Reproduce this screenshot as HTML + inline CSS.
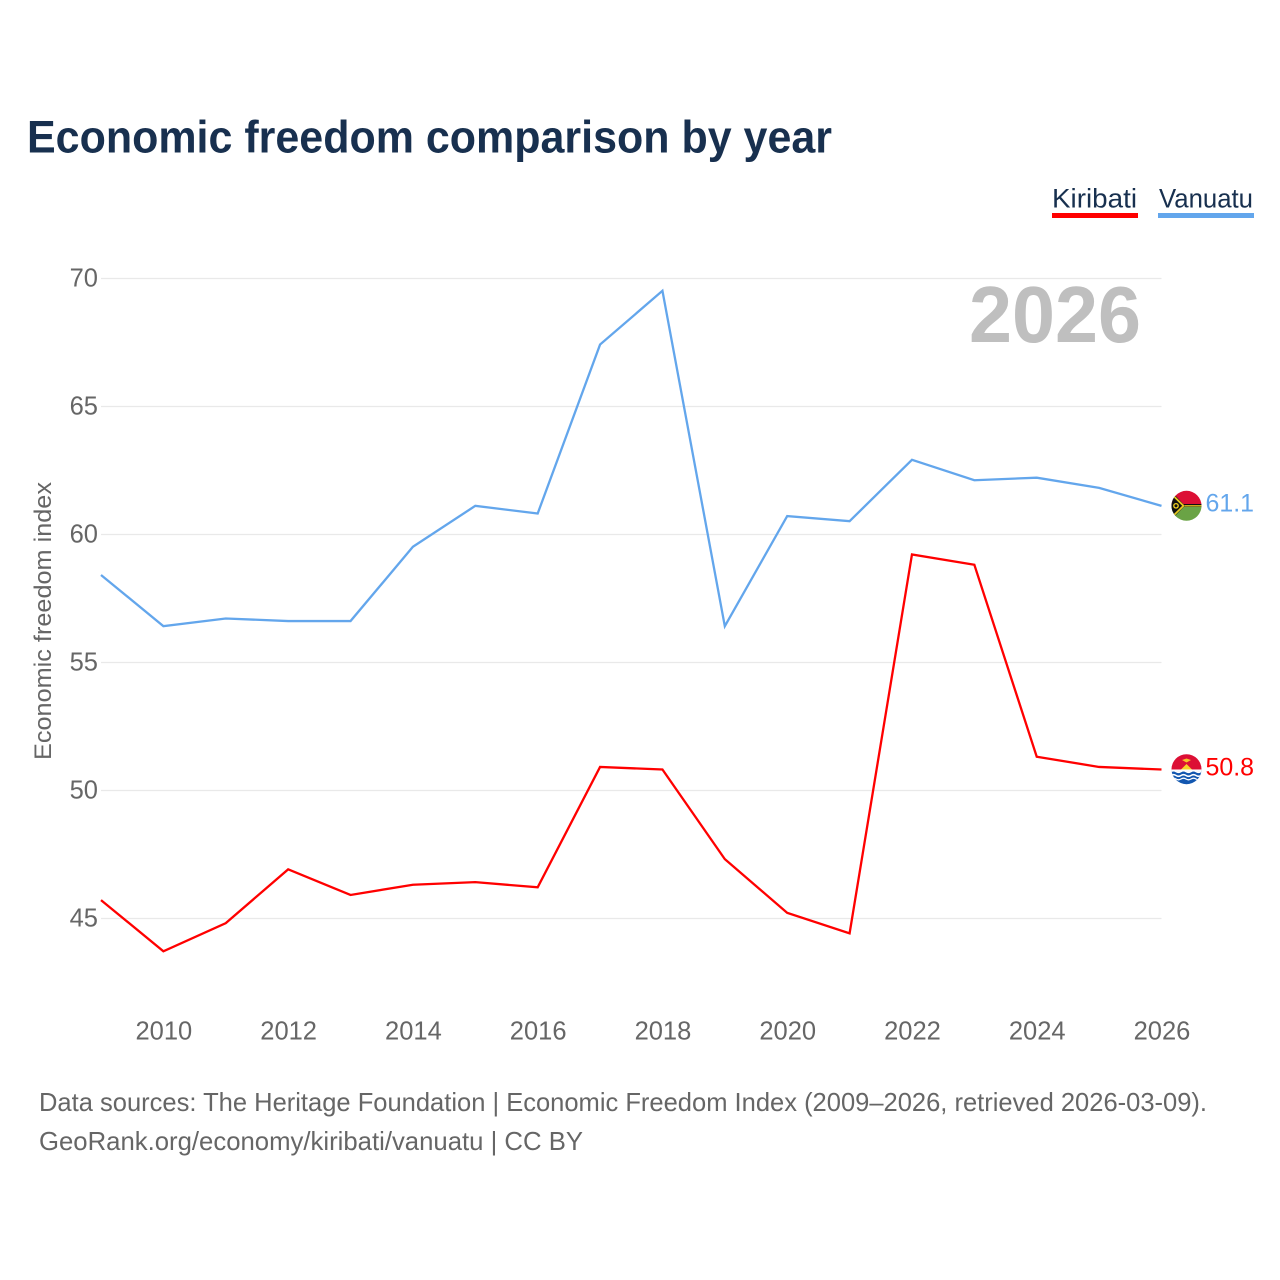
<!DOCTYPE html>
<html lang="en">
<head>
<meta charset="utf-8">
<title>Economic freedom comparison by year</title>
<style>
html,body{margin:0;padding:0;background:#fff;width:1280px;height:1280px;overflow:hidden}
svg{display:block}
text{font-family:"Liberation Sans",sans-serif}
</style>
</head>
<body>
<svg id="chart" xmlns="http://www.w3.org/2000/svg" width="1280" height="1280" viewBox="0 0 1280 1280">
  <rect width="1280" height="1280" fill="#fff"/>
  <text x="27" y="152.5" font-size="45" font-weight="700" fill="#18304f" textLength="805" lengthAdjust="spacingAndGlyphs">Economic freedom comparison by year</text>

  <g>
    <text x="1052" y="207.5" font-size="27" fill="#18304f" textLength="85" lengthAdjust="spacingAndGlyphs">Kiribati</text>
    <rect x="1052" y="213" width="86" height="5" fill="#ff0000"/>
    <text x="1159" y="207.5" font-size="27" fill="#18304f" textLength="94" lengthAdjust="spacingAndGlyphs">Vanuatu</text>
    <rect x="1158" y="213" width="96" height="5" fill="#63a6ec"/>
  </g>

  <g id="grid"></g>
  <g id="yticks"></g>
  <g id="xticks"></g>

  <text transform="translate(51,760) rotate(-90)" font-size="24" fill="#666" textLength="278" lengthAdjust="spacingAndGlyphs">Economic freedom index</text>
  <text x="969" y="342" font-size="80" font-weight="700" fill="#bfbfbf" textLength="172" lengthAdjust="spacingAndGlyphs">2026</text>

  <g id="series"></g>

  <defs>
    <clipPath id="flag-clip-vu"><circle cx="1186.5" cy="505.8" r="15"/></clipPath>
    <clipPath id="flag-clip-ki"><circle cx="1186.5" cy="769.2" r="15"/></clipPath>
  </defs>

  <g clip-path="url(#flag-clip-vu)">
    <rect x="1171" y="490" width="31" height="15" fill="#dc0f35"/>
    <rect x="1171" y="505" width="31" height="17" fill="#6aa345"/>
    <rect x="1171" y="504" width="31" height="2.8" fill="#111"/>
    <rect x="1183" y="505.2" width="19" height="1.2" fill="#f5d21f"/>
    <polygon points="1171,491 1185,505.8 1171,520" fill="#111"/>
    <polyline points="1171,493.5 1183.5,505.8 1171,518" fill="none" stroke="#e8c820" stroke-width="1.8"/>
    <circle cx="1176" cy="505.8" r="2.2" fill="none" stroke="#f5d21f" stroke-width="1.3"/>
  </g>
  <g clip-path="url(#flag-clip-ki)">
    <rect x="1171" y="754" width="31" height="16" fill="#dc0f35"/>
    <rect x="1171" y="770" width="31" height="15" fill="#1257b0"/>
    <polygon points="1181,769.5 1186.5,764 1192,769.5" fill="#f7d12a"/>
    <polygon points="1182,760 1186.5,762.5 1191,760 1186.5,758.5" fill="#f7c32a"/>
    <path d="M1171 771.8q2.5 -1.6 5 0t5 0t5 0t5 0t5 0t5 0V770H1171Z" fill="#f4f6fa" stroke="#fff" stroke-width="1"/>
    <path d="M1171 775.5q2.5 -1.6 5 0t5 0t5 0t5 0t5 0t5 0" fill="none" stroke="#fff" stroke-width="1.6"/>
    <path d="M1171 779q2.5 -1.6 5 0t5 0t5 0t5 0t5 0t5 0" fill="none" stroke="#fff" stroke-width="1.3"/>
  </g>

  <text id="label-vu" x="1205.5" y="511.5" font-size="25" fill="#63a6ec" textLength="48.5" lengthAdjust="spacingAndGlyphs"></text>
  <text id="label-ki" x="1205.5" y="775.5" font-size="25" fill="#ff0000" textLength="48.5" lengthAdjust="spacingAndGlyphs"></text>

  <text x="39" y="1111" font-size="26" fill="#666" textLength="1168" lengthAdjust="spacingAndGlyphs">Data sources: The Heritage Foundation | Economic Freedom Index (2009–2026, retrieved 2026-03-09).</text>
  <text x="39" y="1150" font-size="26" fill="#666" textLength="544" lengthAdjust="spacingAndGlyphs">GeoRank.org/economy/kiribati/vanuatu | CC BY</text>
</svg>
<script>
const years = [2009,2010,2011,2012,2013,2014,2015,2016,2017,2018,2019,2020,2021,2022,2023,2024,2025,2026];
const kiribati = [45.7,43.7,44.8,46.9,45.9,46.3,46.4,46.2,50.9,50.8,47.3,45.2,44.4,59.2,58.8,51.3,50.9,50.8];
const vanuatu = [58.4,56.4,56.7,56.6,56.6,59.5,61.1,60.8,67.4,69.5,56.4,60.7,60.5,62.9,62.1,62.2,61.8,61.1];
const yTickValues = [45,50,55,60,65,70];
const xTickValues = [2010,2012,2014,2016,2018,2020,2022,2024,2026];

const NS = 'http://www.w3.org/2000/svg';
function xScale(year){ return 101 + (year - 2009) * (1161.5 - 101) / 17; }
function yScale(value){ return 918 - (value - 45) * 25.6; }
function make(tag, attrs){
  const el = document.createElementNS(NS, tag);
  for (const k in attrs) el.setAttribute(k, attrs[k]);
  return el;
}

const grid = document.getElementById('grid');
const yticks = document.getElementById('yticks');
yTickValues.forEach(function(v){
  const line = make('line', {x1:101, x2:1161.5, y1:yScale(v)+0.5, y2:yScale(v)+0.5, stroke:'#e9e9e9', 'stroke-width':1.2});
  
  
  grid.appendChild(line);
  const t = make('text', {x:98, y:yScale(v)+8.5, 'text-anchor':'end', 'font-size':25.5, fill:'#666'});
  
  
  t.textContent = v;
  yticks.appendChild(t);
});

const xticks = document.getElementById('xticks');
xTickValues.forEach(function(y){
  const t = make('text', {x:xScale(y)+0.5, y:1039.5, 'text-anchor':'middle', 'font-size':25.5, fill:'#666'});
  
  
  t.textContent = y;
  xticks.appendChild(t);
});

function pathFor(values){
  return values.map(function(v,i){ return xScale(years[i]).toFixed(2) + ',' + yScale(v).toFixed(2); }).join(' ');
}
const seriesGroup = document.getElementById('series');
const vuLine = make('polyline', {points:pathFor(vanuatu), fill:'none', stroke:'#63a6ec', 'stroke-width':2.3, 'stroke-linejoin':'miter'});


seriesGroup.appendChild(vuLine);
const kiLine = make('polyline', {points:pathFor(kiribati), fill:'none', stroke:'#ff0000', 'stroke-width':2.3, 'stroke-linejoin':'miter'});


seriesGroup.appendChild(kiLine);

document.getElementById('label-vu').textContent = vanuatu[vanuatu.length-1].toFixed(1);
document.getElementById('label-ki').textContent = kiribati[kiribati.length-1].toFixed(1);
</script>
</body>
</html>
